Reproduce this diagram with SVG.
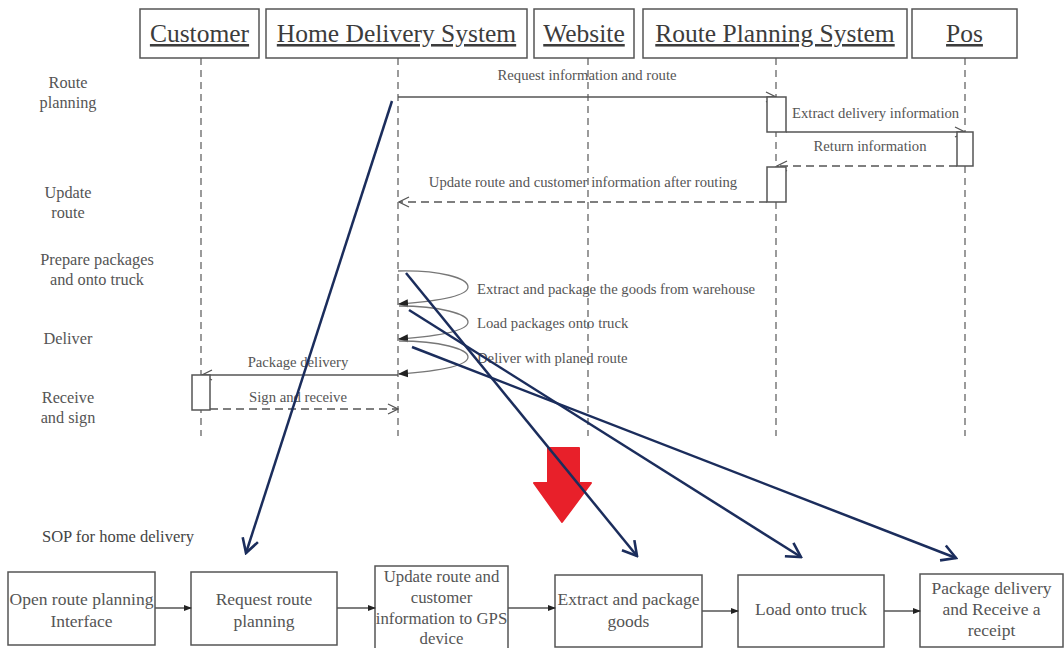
<svg xmlns="http://www.w3.org/2000/svg" width="1064" height="648" viewBox="0 0 1064 648">
  <style>
    .actor { fill: #fff; stroke: #555; stroke-width: 1.5; }
    .actor-text { font-family: "Liberation Serif", serif; font-size: 25.5px; fill: #3c3c3c; text-anchor: middle; text-decoration: underline; }
    .lifeline { stroke: #666; stroke-width: 1.3; stroke-dasharray: 7 5; fill: none; }
    .act { fill: #fff; stroke: #555; stroke-width: 1.5; }
    .msg { stroke: #555; stroke-width: 1.4; fill: none; }
    .msg-dash { stroke: #555; stroke-width: 1.4; fill: none; stroke-dasharray: 8 5; }
    .loop { stroke: #777; stroke-width: 1.3; fill: none; }
    .lbl { font-family: "Liberation Serif", serif; font-size: 14.7px; fill: #555; }
    .mid { text-anchor: middle; }
    .side { font-family: "Liberation Serif", serif; font-size: 16.3px; fill: #555; text-anchor: middle; }
    .step { fill: #fff; stroke: #555; stroke-width: 1.5; }
    .step-text { font-family: "Liberation Serif", serif; font-size: 17.5px; fill: #555; text-anchor: middle; }
    .narrow { font-size: 16.8px; }
    .title { font-family: "Liberation Serif", serif; font-size: 16.5px; fill: #444; text-anchor: start; }
    .flow { stroke: #555; stroke-width: 1.4; fill: none; }
    .link { stroke: #1b2d5c; stroke-width: 2.5; fill: none; }
  </style>
  <defs>
    <marker id="open" viewBox="0 0 12 12" refX="11" refY="6" markerWidth="12" markerHeight="12" markerUnits="userSpaceOnUse" orient="auto">
      <path d="M1,1 L11,6 L1,11" fill="none" stroke="#555" stroke-width="1.3"/>
    </marker>
    <marker id="solid" viewBox="0 0 10 10" refX="9" refY="5" markerWidth="10" markerHeight="10" markerUnits="userSpaceOnUse" orient="auto">
      <path d="M0,1 L10,5 L0,9 Z" fill="#222"/>
    </marker>
    <marker id="small" viewBox="0 0 8 8" refX="7" refY="4" markerWidth="8" markerHeight="8" markerUnits="userSpaceOnUse" orient="auto">
      <path d="M0,1 L8,4 L0,7 Z" fill="#222"/>
    </marker>
    <marker id="chev" viewBox="0 0 20 20" refX="18" refY="10" markerWidth="20" markerHeight="20" markerUnits="userSpaceOnUse" orient="auto">
      <path d="M4,2 L18,10 L4,18" fill="none" stroke="#1b2d5c" stroke-width="2.6"/>
    </marker>
  </defs>

  <rect width="1064" height="648" fill="#fff"/>

  <!-- lifelines -->
  <g id="lifelines">
    <line class="lifeline" x1="201" y1="58" x2="201" y2="436"/>
    <line class="lifeline" x1="398" y1="58" x2="398" y2="436"/>
    <line class="lifeline" x1="588" y1="58" x2="588" y2="436"/>
    <line class="lifeline" x1="776" y1="58" x2="776" y2="436"/>
    <line class="lifeline" x1="965" y1="58" x2="965" y2="436"/>
  </g>

  <!-- participants -->
  <g id="customer">
    <rect class="actor" x="140" y="9" width="119" height="49"/>
    <text class="actor-text" x="199.5" y="42">Customer</text>
  </g>
  <g id="home-delivery-system">
    <rect class="actor" x="266" y="9" width="261" height="49"/>
    <text class="actor-text" x="396.5" y="42">Home Delivery System</text>
  </g>
  <g id="website">
    <rect class="actor" x="534" y="9" width="100" height="49"/>
    <text class="actor-text" x="584" y="42">Website</text>
  </g>
  <g id="route-planning-system">
    <rect class="actor" x="643" y="9" width="264" height="49"/>
    <text class="actor-text" x="775" y="42">Route Planning System</text>
  </g>
  <g id="pos">
    <rect class="actor" x="912" y="9" width="105" height="49"/>
    <text class="actor-text" x="964.5" y="42">Pos</text>
  </g>

  <!-- phase labels -->
  <g id="phases">
    <text class="side" x="68" y="88">Route</text>
    <text class="side" x="68" y="108">planning</text>
    <text class="side" x="68" y="198">Update</text>
    <text class="side" x="68" y="218">route</text>
    <text class="side" x="97" y="265">Prepare packages</text>
    <text class="side" x="97" y="285">and onto truck</text>
    <text class="side" x="68" y="344">Deliver</text>
    <text class="side" x="68" y="403">Receive</text>
    <text class="side" x="68" y="423">and sign</text>
  </g>

  <!-- messages -->
  <g id="messages">
    <line class="msg" x1="398" y1="97" x2="776" y2="97" marker-end="url(#open)"/>
    <text class="lbl mid" x="587" y="80">Request information and route</text>
    <line class="msg" x1="786" y1="132" x2="965" y2="132" marker-end="url(#open)"/>
    <text class="lbl" x="792" y="118">Extract delivery information</text>
    <line class="msg-dash" x1="957" y1="166" x2="777" y2="166" marker-end="url(#open)"/>
    <text class="lbl mid" x="870" y="151">Return information</text>
    <line class="msg-dash" x1="767" y1="202" x2="399" y2="202" marker-end="url(#open)"/>
    <text class="lbl mid" x="583" y="187">Update route and customer information after routing</text>

    <path class="loop" d="M398,271 C440,270 468,278 468,287 C468,296 440,301 399,304" marker-end="url(#solid)"/>
    <text class="lbl" x="477" y="294">Extract and package the goods from warehouse</text>
    <path class="loop" d="M399,306 C440,306 468,314 468,322 C468,331 440,336 399,339" marker-end="url(#solid)"/>
    <text class="lbl" x="477" y="328">Load packages onto truck</text>
    <path class="loop" d="M399,341 C440,341 468,349 468,357 C468,366 440,371 399,374" marker-end="url(#solid)"/>
    <text class="lbl" x="477" y="363">Deliver with planed route</text>

    <line class="msg" x1="398" y1="375" x2="202" y2="375" marker-end="url(#open)"/>
    <text class="lbl mid" x="298" y="367">Package delivery</text>
    <line class="msg-dash" x1="210" y1="409" x2="398" y2="409" marker-end="url(#open)"/>
    <text class="lbl mid" x="298" y="402">Sign and receive</text>
  </g>

  <!-- activation bars -->
  <g id="activations">
    <rect class="act" x="767" y="97" width="19" height="35"/>
    <rect class="act" x="957" y="132" width="16" height="34"/>
    <rect class="act" x="767" y="167" width="19" height="35"/>
    <rect class="act" x="192" y="375" width="18" height="35"/>
  </g>

  <!-- transition arrow -->
  <g id="transition">
    <polygon points="548,448 579,448 579,483 591,483 562,522 534,483 548,483" fill="#e8202a" stroke="#e8202a" stroke-width="2" stroke-linejoin="round"/>
  </g>

  <text class="title" x="42" y="542">SOP for home delivery</text>

  <!-- procedure steps -->
  <g id="step-open">
    <rect class="step" x="8" y="572" width="147" height="73"/>
    <text class="step-text" x="81.5" y="605">Open route planning</text>
    <text class="step-text" x="81.5" y="627">Interface</text>
  </g>
  <g id="step-request">
    <rect class="step" x="191" y="572" width="146" height="73"/>
    <text class="step-text" x="264" y="605">Request route</text>
    <text class="step-text" x="264" y="627">planning</text>
  </g>
  <g id="step-update">
    <rect class="step" x="375" y="566" width="133" height="86"/>
    <text class="step-text narrow" x="441.5" y="582">Update route and</text>
    <text class="step-text narrow" x="441.5" y="603">customer</text>
    <text class="step-text narrow" x="441.5" y="624">information to GPS</text>
    <text class="step-text narrow" x="441.5" y="644">device</text>
  </g>
  <g id="step-extract">
    <rect class="step" x="555" y="575" width="147" height="72"/>
    <text class="step-text" x="628.5" y="605">Extract and package</text>
    <text class="step-text" x="628.5" y="627">goods</text>
  </g>
  <g id="step-load">
    <rect class="step" x="738" y="575" width="146" height="72"/>
    <text class="step-text" x="811" y="615">Load onto truck</text>
  </g>
  <g id="step-deliver">
    <rect class="step" x="920" y="574" width="143" height="73"/>
    <text class="step-text" x="991.5" y="594">Package delivery</text>
    <text class="step-text" x="991.5" y="615">and Receive a</text>
    <text class="step-text" x="991.5" y="636">receipt</text>
  </g>

  <!-- step flow -->
  <g id="flow">
    <line class="flow" x1="155" y1="608" x2="191" y2="608" marker-end="url(#small)"/>
    <line class="flow" x1="337" y1="608" x2="375" y2="608" marker-end="url(#small)"/>
    <line class="flow" x1="508" y1="608" x2="555" y2="608" marker-end="url(#small)"/>
    <line class="flow" x1="702" y1="611" x2="738" y2="611" marker-end="url(#small)"/>
    <line class="flow" x1="884" y1="611" x2="920" y2="611" marker-end="url(#small)"/>
  </g>

  <!-- links from sequence to procedure steps -->
  <g id="links">
    <line class="link" x1="392" y1="101" x2="246" y2="553" marker-end="url(#chev)"/>
    <line class="link" x1="406" y1="273" x2="637" y2="556" marker-end="url(#chev)"/>
    <line class="link" x1="409" y1="310" x2="801" y2="557" marker-end="url(#chev)"/>
    <line class="link" x1="412" y1="347" x2="956" y2="558" marker-end="url(#chev)"/>
  </g>
</svg>
